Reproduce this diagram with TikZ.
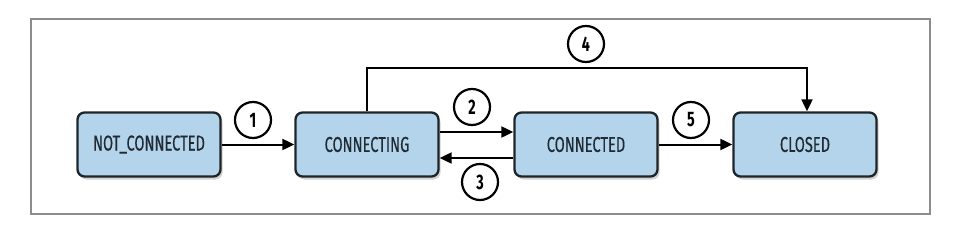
\documentclass[tikz,border=0pt]{standalone}
\usepackage{fontspec}
\setmainfont{Fira Sans}[FakeStretch=0.68]
\usetikzlibrary{arrows.meta,shadows,positioning}
\definecolor{boxfill}{HTML}{B4D4EB}
\definecolor{boxdraw}{HTML}{1E2528}
\definecolor{txt}{HTML}{1F2A33}
\tikzset{
  statebox/.style={draw=boxdraw, line width=2.3pt, fill=boxfill, rounded corners=7pt,
    minimum width=143pt, minimum height=64pt, inner sep=0pt,
    font=\addfontfeatures{FakeBold=0.3}\fontsize{21.5}{23}\selectfont, text=txt,
    drop shadow={opacity=0.35, shadow xshift=2pt, shadow yshift=-3pt}},
  numcirc/.style={draw=black, line width=2.2pt, circle, minimum size=36pt, inner sep=0pt,
    font=\fontsize{21}{22}\selectfont\bfseries},
  conn/.style={line width=2pt, -{Triangle[length=12pt,width=11pt]}}
}
\begin{document}
\begin{tikzpicture}[x=1pt,y=-1pt]
\useasboundingbox (0,0) rectangle (964,238);
\draw[draw=gray!90, line width=1.2pt] (31,19) rectangle (930,214);
\node[statebox] (nc) at (149,144.5) {NOT\_CONNECTED};
\node[statebox] (cing) at (367,144.5) {CONNECTING};
\node[statebox] (cted) at (586,144.5) {CONNECTED};
\node[statebox] (cl) at (805,144.5) {CLOSED};
\node[numcirc] (n1) at (253,120) {1};
\node[numcirc] (n2) at (472,107) {2};
\node[numcirc] (n3) at (480,182) {3};
\node[numcirc] (n4) at (586,44) {4};
\node[numcirc] (n5) at (691,120) {5};
\coordinate (t1) at (367,68);
\coordinate (t2) at (807,68);
\draw[conn] (nc.east) -- (cing.west);
\draw[conn] (cing.east |- 0,132) -- (cted.west |- 0,132);
\draw[conn] (cted.west |- 0,158) -- (cing.east |- 0,158);
\draw[conn] (cted.east) -- (cl.west);
\draw[conn] (cing.north) -- (t1) -- (t2) -- (cl.north -| t2);
\end{tikzpicture}
\end{document}
